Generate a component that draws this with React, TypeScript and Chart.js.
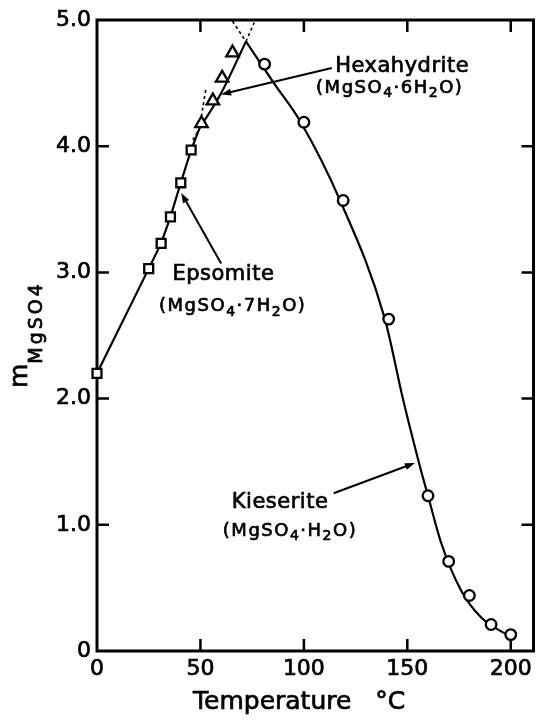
import React, { useEffect, useRef } from 'react';
import { Chart, registerables } from 'chart.js';

Chart.register(...registerables);

const FONT = '"DejaVu Sans", "Liberation Sans", sans-serif';

// ---- measured points (Temperature °C, molality) ----
const epsomiteT = [0, 25, 31, 35.5, 40.5, 45.5];
const epsomiteM = [2.2, 3.03, 3.23, 3.44, 3.71, 3.97];
const hexahydriteT = [50.5, 56, 60.5, 65.5];
const hexahydriteM = [4.18, 4.36, 4.54, 4.74];
const kieseriteT = [81, 100, 119, 141, 160, 170, 180, 190.5, 200];
const kieseriteM = [4.65, 4.19, 3.57, 2.63, 1.23, 0.71, 0.44, 0.21, 0.13];

// ---- solubility curves ----
const epsomiteCurveT = [0, 25, 31, 35.5, 40.5, 45.5, 49.5];
const epsomiteCurveM = [2.2, 3.03, 3.23, 3.44, 3.71, 3.97, 4.14];
const hexahydriteCurveT = [49.5, 60, 72];
const hexahydriteCurveM = [4.14, 4.42, 4.83];
const kieseriteCurveT = [72, 85.5, 98.5, 117.5, 139, 148, 155.5, 160, 166.5, 176, 185.5, 200];
const kieseriteCurveM = [4.83, 4.5, 4.19, 3.57, 2.64, 1.99, 1.5, 1.23, 0.85, 0.48, 0.27, 0.11];

// ---- metastable extensions (dotted) ----
const epsomiteExtT = [49.5, 51, 52.7];
const epsomiteExtM = [4.14, 4.29, 4.46];
const hexahydriteExtLowT = [46.3, 49.5];
const hexahydriteExtLowM = [4.05, 4.14];
const hexahydriteExtHighT = [72, 76];
const hexahydriteExtHighM = [4.83, 4.98];
const kieseriteExtT = [65.5, 72];
const kieseriteExtM = [4.99, 4.83];

// ---- axes ----
const xTicks = [0, 50, 100, 150, 200];
const yTicks = [0, 1, 2, 3, 4, 5];
const xMax = 211;
const yMax = 5;

// ---- annotation texts ----
type Part = [string, boolean];
const annotations: {
  name: string;
  formula: Part[];
  nameAt: [number, number];
  formulaAt: [number, number];
  arrowFrom: [number, number];
  arrowTo: [number, number];
}[] = [
  {
    name: 'Hexahydrite',
    formula: [['(MgSO', false], ['4', true], ['·6H', false], ['2', true], ['O)', false]],
    nameAt: [147.5, 4.635],
    formulaAt: [141.5, 4.46],
    arrowFrom: [113.5, 4.62],
    arrowTo: [60, 4.41],
  },
  {
    name: 'Epsomite',
    formula: [['(MgSO', false], ['4', true], ['·7H', false], ['2', true], ['O)', false]],
    nameAt: [61.1, 2.98],
    formulaAt: [65.6, 2.73],
    arrowFrom: [60, 3.07],
    arrowTo: [40.7, 3.63],
  },
  {
    name: 'Kieserite',
    formula: [['(MgSO', false], ['4', true], ['·H', false], ['2', true], ['O)', false]],
    nameAt: [88.5, 1.18],
    formulaAt: [93.3, 0.95],
    arrowFrom: [114.4, 1.25],
    arrowTo: [153.7, 1.49],
  },
];

const pts = (t: number[], m: number[]) => t.map((v, i) => ({ x: v, y: m[i] }));

const STROKE = 0.7;

function text(ctx: CanvasRenderingContext2D, s: string, x: number, y: number) {
  ctx.lineWidth = STROKE;
  ctx.strokeText(s, x, y);
  ctx.fillText(s, x, y);
}

function drawRich(ctx: CanvasRenderingContext2D, parts: Part[], cx: number, cy: number, size: number, spacing: number) {
  const subSize = Math.round(size * 0.75);
  (ctx as any).letterSpacing = spacing + 'px';
  const widths = parts.map(([t, sub]) => {
    ctx.font = `${sub ? subSize : size}px ${FONT}`;
    return ctx.measureText(t).width;
  });
  const total = widths.reduce((a, b) => a + b, 0);
  let x = cx - total / 2;
  ctx.textAlign = 'left';
  ctx.textBaseline = 'middle';
  parts.forEach(([t, sub], i) => {
    ctx.font = `${sub ? subSize : size}px ${FONT}`;
    text(ctx, t, x, sub ? cy + size * 0.3 : cy);
    x += widths[i];
  });
  (ctx as any).letterSpacing = '0px';
}

function drawArrow(ctx: CanvasRenderingContext2D, x1: number, y1: number, x2: number, y2: number) {
  const ang = Math.atan2(y2 - y1, x2 - x1);
  const len = 10;
  const hw = 3.5;
  ctx.lineWidth = 2;
  ctx.beginPath();
  ctx.moveTo(x1, y1);
  ctx.lineTo(x2 - Math.cos(ang) * len * 0.8, y2 - Math.sin(ang) * len * 0.8);
  ctx.stroke();
  ctx.beginPath();
  ctx.moveTo(x2, y2);
  ctx.lineTo(x2 - Math.cos(ang) * len - Math.sin(ang) * hw, y2 - Math.sin(ang) * len + Math.cos(ang) * hw);
  ctx.lineTo(x2 - Math.cos(ang) * len + Math.sin(ang) * hw, y2 - Math.sin(ang) * len - Math.cos(ang) * hw);
  ctx.closePath();
  ctx.fill();
}

const framePlugin = {
  id: 'frame',
  beforeDatasetsDraw(chart: any) {
    const { ctx, chartArea } = chart;
    const { left, right, top, bottom } = chartArea;
    const xs = chart.scales.x;
    const ys = chart.scales.y;
    ctx.save();
    ctx.strokeStyle = '#000';
    ctx.lineWidth = 3;
    ctx.strokeRect(left, top, right - left, bottom - top);
    ctx.lineWidth = 2.5;
    const tl = 12;
    ctx.beginPath();
    xTicks.forEach((v) => {
      if (v <= 0) return;
      const px = xs.getPixelForValue(v);
      ctx.moveTo(px, bottom);
      ctx.lineTo(px, bottom - tl);
      ctx.moveTo(px, top);
      ctx.lineTo(px, top + tl);
    });
    yTicks.forEach((v) => {
      if (v <= 0 || v >= yMax) return;
      const py = ys.getPixelForValue(v);
      ctx.moveTo(left, py);
      ctx.lineTo(left + tl, py);
      ctx.moveTo(right, py);
      ctx.lineTo(right - tl, py);
    });
    ctx.stroke();
    ctx.restore();
  },
  afterDatasetsDraw(chart: any) {
    const { ctx } = chart;
    const xs = chart.scales.x;
    const ys = chart.scales.y;
    const X = (v: number) => xs.getPixelForValue(v);
    const Y = (v: number) => ys.getPixelForValue(v);
    ctx.save();
    ctx.fillStyle = '#000';
    ctx.strokeStyle = '#000';
    annotations.forEach((a) => {
      ctx.font = `21px ${FONT}`;
      (ctx as any).letterSpacing = '0.5px';
      ctx.textAlign = 'center';
      ctx.textBaseline = 'middle';
      text(ctx, a.name, X(a.nameAt[0]), Y(a.nameAt[1]));
      (ctx as any).letterSpacing = '0px';
      drawRich(ctx, a.formula, X(a.formulaAt[0]), Y(a.formulaAt[1]), 18, 1.5);
      drawArrow(ctx, X(a.arrowFrom[0]), Y(a.arrowFrom[1]), X(a.arrowTo[0]), Y(a.arrowTo[1]));
    });

    // x axis title
    ctx.font = `25px ${FONT}`;
    ctx.textAlign = 'left';
    ctx.textBaseline = 'middle';
    text(ctx, 'Temperature   °C', 193, 702);

    // y axis title (rotated)
    ctx.translate(27, 388);
    ctx.rotate(-Math.PI / 2);
    ctx.textBaseline = 'alphabetic';
    ctx.font = `25px ${FONT}`;
    text(ctx, 'm', 0, 0);
    const mw = ctx.measureText('m').width;
    ctx.font = `19px ${FONT}`;
    (ctx as any).letterSpacing = '3px';
    text(ctx, 'MgSO4', mw, 15);
    (ctx as any).letterSpacing = '0px';
    ctx.restore();
  },
};

export default function App() {
  const ref = useRef<HTMLCanvasElement>(null);
  useEffect(() => {
    const canvas = ref.current!;
    const lineDs = (data: any[], extra: any = {}) => ({
      data,
      showLine: true,
      borderColor: '#000',
      borderWidth: 2.2,
      pointRadius: 0,
      fill: false,
      clip: false,
      order: 2,
      ...extra,
    });
    const markDs = (data: any[], style: string, r: number) => ({
      data,
      showLine: false,
      pointStyle: style,
      pointRadius: r,
      pointBorderWidth: 2.3,
      pointBorderColor: '#000',
      pointBackgroundColor: '#fff',
      clip: false,
      order: 0,
    });
    const dotted = { borderWidth: 1.6, borderDash: [3, 3] };
    const chart = new Chart(canvas, {
      type: 'scatter',
      data: {
        datasets: [
          markDs(pts(epsomiteT, epsomiteM), 'rect', 6.3),
          markDs(pts(hexahydriteT, hexahydriteM), 'triangle', 7.2),
          markDs(pts(kieseriteT, kieseriteM), 'circle', 5.3),
          lineDs(pts(epsomiteCurveT, epsomiteCurveM), { tension: 0 }),
          lineDs(pts(hexahydriteCurveT, hexahydriteCurveM), { cubicInterpolationMode: 'monotone' }),
          lineDs(pts(kieseriteCurveT, kieseriteCurveM), { cubicInterpolationMode: 'monotone' }),
          lineDs(pts(epsomiteExtT, epsomiteExtM), { ...dotted, tension: 0.3 }),
          lineDs(pts(hexahydriteExtLowT, hexahydriteExtLowM), dotted),
          lineDs(pts(hexahydriteExtHighT, hexahydriteExtHighM), dotted),
          lineDs(pts(kieseriteExtT, kieseriteExtM), dotted),
        ] as any,
      },
      options: {
        responsive: false,
        animation: false,
        devicePixelRatio: 1,
        layout: { padding: { top: 20, right: 6, left: 0, bottom: 0 } },
        plugins: { legend: { display: false }, tooltip: { enabled: false } },
        scales: {
          x: {
            type: 'linear',
            min: 0,
            max: xMax,
            grid: { display: false, drawTicks: false },
            border: { display: false },
            afterBuildTicks: (s: any) => {
              s.ticks = xTicks.map((v) => ({ value: v }));
            },
            afterFit: (s: any) => {
              s.height = 73;
            },
            ticks: {
              font: { family: FONT, size: 22 },
              color: '#000',
              textStrokeColor: '#000',
              textStrokeWidth: STROKE,
              padding: 5,
              maxRotation: 0,
              autoSkip: false,
              callback: (v: any) => String(v),
            },
          },
          y: {
            type: 'linear',
            min: 0,
            max: yMax,
            grid: { display: false, drawTicks: false },
            border: { display: false },
            afterBuildTicks: (s: any) => {
              s.ticks = yTicks.map((v) => ({ value: v }));
            },
            afterFit: (s: any) => {
              s.width = 97;
            },
            ticks: {
              font: { family: FONT, size: 22 },
              color: '#000',
              textStrokeColor: '#000',
              textStrokeWidth: STROKE,
              padding: 6,
              autoSkip: false,
              callback: (v: any) => (Number(v) === 0 ? '0' : Number(v).toFixed(1)),
            },
          },
        },
      } as any,
      plugins: [framePlugin],
    });
    return () => chart.destroy();
  }, []);
  return (
    <div style={{ position: 'absolute', left: 0, top: 0, width: 543, height: 724, background: '#fff' }}>
      <canvas ref={ref} width={543} height={724} style={{ display: 'block' }} />
    </div>
  );
}
